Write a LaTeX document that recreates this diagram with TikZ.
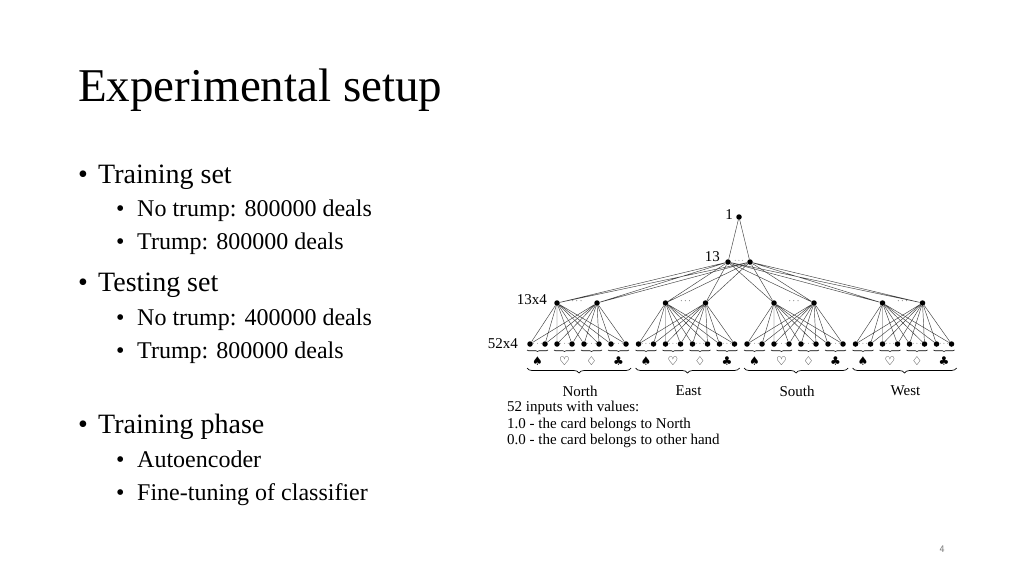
\documentclass[tikz,border=0pt]{standalone}
\usepackage{fontspec}
\setmainfont{Liberation Serif}
\newfontfamily\djv{DejaVu Sans}
\usetikzlibrary{decorations.pathreplacing}
\begin{document}
\begin{tikzpicture}[x=1pt,y=-1pt,
  dotn/.style={circle,fill=black,inner sep=0pt,minimum size=5.5pt},
  wire/.style={draw=black!75,line width=0.45pt},
  lab/.style={font=\fontsize{14}{15}\selectfont,inner sep=0pt},
  body/.style={anchor=base west,inner sep=0pt}]
\path[fill=white] (0,0) rectangle (1024,576);
\node[body,font=\fontsize{47}{52}\selectfont] (title) at (78,101) {Experimental setup};
\foreach \n/\y/\t in {a/183/Training set,b/291/Testing set,c/433/Training phase}{
  \node[body,font=\fontsize{28}{30}\selectfont] (\n) at (78,\y) {\textbullet};
  \node[body,font=\fontsize{28}{30}\selectfont] (\n t) at (98,\y) {\t};}
\foreach \n/\y/\t in {a1/216/No trump: 800000 deals,a2/249/Trump: 800000 deals,
  b1/325/No trump: 400000 deals,b2/358/Trump: 800000 deals,
  c1/467/Autoencoder,c2/500/Fine-tuning of classifier}{
  \node[body,font=\fontsize{24}{26}\selectfont] (\n) at (116,\y) {\textbullet};
  \node[body,font=\fontsize{24}{26}\selectfont] (\n t) at (137,\y) {\t};}
\node[font=\fontsize{10}{12}\selectfont\sffamily,text=black!55] (pg) at (942,549) {4};
% network
\node[dotn] (top) at (739,217) {};
\node[dotn] (m1) at (728,262) {};
\node[dotn] (m2) at (750,262) {};
\node[lab,font=\fontsize{7}{8}\selectfont] (md) at (739,261) {$\cdots$};
\draw[wire] (top)--(m1) (top)--(m2);
\foreach \g/\name in {0/North,1/East,2/South,3/West}{
  \pgfmathsetmacro{\ox}{\g*108.5}
  \node[dotn] (h\g a) at (557+\ox,303) {};
  \node[dotn] (h\g b) at (597+\ox,303) {};
  \node[lab,font=\fontsize{9}{10}\selectfont] (hd\g) at (577+\ox,301) {$\cdots$};
  \draw[wire] (m1)--(h\g a) (m1)--(h\g b) (m2)--(h\g a) (m2)--(h\g b);
  \foreach \s/\sym in {0/♠,1/♡,2/♢,3/♣}{
    \pgfmathsetmacro{\bx}{530+\ox+\s*27}
    \node[dotn] (l\g\s a) at (\bx,344) {};
    \node[dotn] (l\g\s b) at (\bx+15,344) {};
    \node[lab,font=\fontsize{7}{8}\selectfont] (ld\g\s) at (\bx+7.5,343.5) {$\cdots$};
    \draw[wire] (h\g a)--(l\g\s a) (h\g a)--(l\g\s b) (h\g b)--(l\g\s a) (h\g b)--(l\g\s b);
    \draw[decorate,decoration={brace,mirror,amplitude=1.5pt},line width=0.6pt] (\bx-3,350) -- (\bx+18,350);
    \node[lab,font=\djv\fontsize{12}{13}\selectfont] (su\g\s) at (\bx+7.5,361) {\sym};
  }
  \draw[decorate,decoration={brace,mirror,amplitude=5pt},line width=0.7pt] (527+\ox,368) -- (631+\ox,368) coordinate[midway] (bm\g);
  \node[lab,font=\fontsize{15}{16}\selectfont] (nm\g) at (580+\ox,391) {\name};
}
\node[lab,anchor=east,font=\fontsize{15}{16}\selectfont] (l1) at (733,215) {1};
\node[lab,anchor=east,font=\fontsize{15}{16}\selectfont] (l13) at (720,257) {13};
\node[lab,anchor=east,font=\fontsize{15}{16}\selectfont] (l134) at (547,300) {13x4};
\node[lab,anchor=east,font=\fontsize{15}{16}\selectfont] (l524) at (518,344) {52x4};
\node[lab,anchor=north west,align=left,font=\fontsize{15}{16.5}\selectfont] (cap) at (507,401)
  {52 inputs with values:\\1.0 - the card belongs to North\\0.0 - the card belongs to other hand};
\end{tikzpicture}
\end{document}
